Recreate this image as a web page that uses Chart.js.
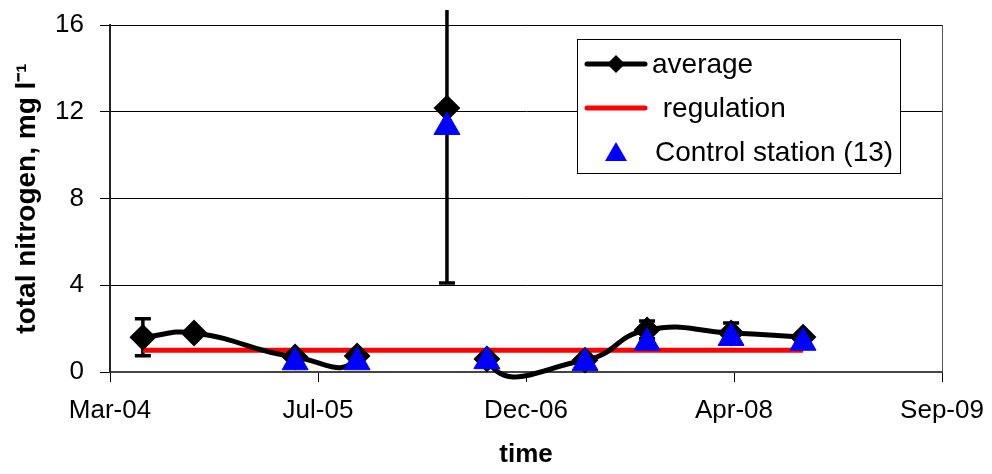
<!DOCTYPE html>
<html>
<head>
<meta charset="UTF-8">
<title>total nitrogen</title>
<script src="https://cdn.jsdelivr.net/npm/chart.js@4.4.0/dist/chart.umd.min.js"></script>
<style>
  html, body { margin: 0; padding: 0; background: #fff; }
  #box { width: 992px; height: 474px; }
</style>
</head>
<body>
<div id="box"><canvas id="myChart"></canvas></div>
<script>
// x = days since 14 Mar 2004, one tick every 500 days
var xTickLabels = ['Mar-04', 'Jul-05', 'Dec-06', 'Apr-08', 'Sep-09'];
var sampleDays = [79, 202, 445, 594, 810, 906, 1142, 1291, 1493, 1666];
var averageValues = [1.6, 1.8, 0.69, 0.74, 12.17, 0.6, 0.55, 1.94, 1.8, 1.61];
var averageErr = [0.85, 0, 0, 0, 8.07, 0, 0, 0.41, 0.46, 0];
var controlValues = [null, null, 0.45, 0.45, 11.3, 0.5, 0.42, 1.35, 1.57, 1.35];
var regulationDays = [79, 1666];
var regulationValues = [1, 1];
var legendLabels = ['average', ' regulation', 'Control station (13)'];

var FONT = '"Liberation Sans", Arial, sans-serif';

function pts(days, vals) {
	var out = [];
	for (var i = 0; i < days.length; i++) {
		out.push({ x: days[i], y: vals[i] });
	}
	return out;
}

// error bars under the markers
var errorBars = {
	id: 'errorBars',
	beforeDatasetsDraw: function (chart) {
		var ctx = chart.ctx, xs = chart.scales.x, ys = chart.scales.y, a = chart.chartArea;
		ctx.save();
		ctx.beginPath();
		ctx.rect(0, a.top - 15, chart.width, chart.height);
		ctx.clip();
		ctx.strokeStyle = '#000';
		ctx.lineWidth = 3.5;
		for (var i = 0; i < sampleDays.length; i++) {
			if (!averageErr[i]) continue;
			var x = xs.getPixelForValue(sampleDays[i]);
			var y1 = ys.getPixelForValue(averageValues[i] + averageErr[i]);
			var y2 = ys.getPixelForValue(averageValues[i] - averageErr[i]);
			ctx.beginPath();
			ctx.moveTo(x, y1); ctx.lineTo(x, y2);
			ctx.moveTo(x - 8, y1); ctx.lineTo(x + 8, y1);
			ctx.moveTo(x - 8, y2); ctx.lineTo(x + 8, y2);
			ctx.stroke();
		}
		ctx.restore();
	}
};

// plot frame and the boxed legend
var frameLegend = {
	id: 'frameLegend',
	beforeDatasetsDraw: function (chart) {
		var ctx = chart.ctx, a = chart.chartArea;
		ctx.save();
		ctx.strokeStyle = '#555';
		ctx.lineWidth = 1;
		ctx.beginPath();
		ctx.moveTo(a.right + 0.5, a.top);
		ctx.lineTo(a.right + 0.5, a.bottom);
		ctx.stroke();
		ctx.restore();
	},
	afterDraw: function (chart) {
		var ctx = chart.ctx;
		ctx.save();
		ctx.fillStyle = '#fff';
		ctx.fillRect(577, 39, 323, 134);
		ctx.strokeStyle = '#000';
		ctx.lineWidth = 1;
		ctx.strokeRect(577.5, 39.5, 323, 134);
		ctx.font = '28px ' + FONT;
		ctx.textBaseline = 'middle';
		ctx.fillStyle = '#000';
		ctx.lineCap = 'round';
		// average
		ctx.strokeStyle = '#000'; ctx.lineWidth = 5;
		ctx.beginPath(); ctx.moveTo(587, 64); ctx.lineTo(645, 64); ctx.stroke();
		ctx.beginPath();
		ctx.moveTo(616, 55); ctx.lineTo(625, 64); ctx.lineTo(616, 73); ctx.lineTo(607, 64);
		ctx.closePath(); ctx.fill();
		ctx.fillText(legendLabels[0], 652, 65);
		// regulation
		ctx.strokeStyle = '#ff0000';
		ctx.beginPath(); ctx.moveTo(587, 108); ctx.lineTo(645, 108); ctx.stroke();
		ctx.fillStyle = '#000';
		ctx.fillText(legendLabels[1], 655, 109);
		// control
		ctx.fillStyle = '#0000ff';
		ctx.beginPath();
		ctx.moveTo(616, 142); ctx.lineTo(627, 161); ctx.lineTo(605, 161);
		ctx.closePath(); ctx.fill();
		ctx.fillStyle = '#000';
		ctx.fillText(legendLabels[2], 655, 153);
		ctx.restore();
	}
};

var ctx = document.getElementById('myChart').getContext('2d');
var myChart = new Chart(ctx, {
	type: 'line',
	data: {
		datasets: [
			{
				label: legendLabels[2],
				data: pts(sampleDays, controlValues),
				showLine: false,
				pointStyle: 'triangle',
				pointRadius: 15,
				pointBackgroundColor: '#0000ff',
				pointBorderColor: '#0000ff',
				pointBorderWidth: 1,
				order: 0
			},
			{
				label: legendLabels[0],
				data: pts(sampleDays, averageValues),
				borderColor: '#000',
				borderWidth: 5,
				tension: 0.5,
				capBezierPoints: false,
				clip: 15,
				segment: {
					// the big sample is not joined to its neighbours
					borderColor: function (c) {
						return (c.p0DataIndex === 4 || c.p1DataIndex === 4) ? 'rgba(0,0,0,0)' : '#000';
					}
				},
				pointStyle: 'rectRot',
				pointRadius: 12,
				pointBackgroundColor: '#000',
				pointBorderColor: '#000',
				pointBorderWidth: 2,
				order: 1
			},
			{
				label: legendLabels[1],
				data: pts(regulationDays, regulationValues),
				borderColor: '#ff0000',
				borderWidth: 5,
				pointRadius: 0,
				order: 2
			}
		]
	},
	options: {
		responsive: true,
		maintainAspectRatio: false,
		animation: false,
		layout: { padding: { top: 25, right: 50, left: 0, bottom: 0 } },
		plugins: {
			legend: { display: false },
			tooltip: { enabled: false }
		},
		scales: {
			x: {
				type: 'linear',
				min: 0,
				max: 2000,
				afterFit: function (s) { s.height = 102; s.paddingLeft = 0; s.paddingRight = 0; },
				ticks: {
					stepSize: 500,
					color: '#000',
					padding: 13,
					font: { family: FONT, size: 26 },
					maxRotation: 0,
					callback: function (v) { return xTickLabels[v / 500]; }
				},
				grid: { drawOnChartArea: false, drawTicks: true, tickLength: 10, color: '#000' },
				border: { color: '#444', width: 2 },
				title: {
					display: true,
					text: 'time',
					color: '#000',
					font: { family: FONT, size: 26, weight: 'bold' },
					padding: { top: 4 }
				}
			},
			y: {
				min: 0,
				max: 16,
				afterFit: function (s) { s.width = 110; s.paddingTop = 0; s.paddingBottom = 0; },
				ticks: {
					stepSize: 4,
					color: '#000',
					padding: 16,
					font: { family: FONT, size: 26 }
				},
				grid: { color: '#000', lineWidth: 1, tickLength: 10 },
				border: { color: '#222', width: 2 },
				title: {
					display: true,
					text: 'total nitrogen, mg l⁻¹',
					color: '#000',
					font: { family: FONT, size: 28, weight: 'bold' },
					padding: { top: 10, bottom: 0 }
				}
			}
		}
	},
	plugins: [errorBars, frameLegend]
});
</script>
</body>
</html>
